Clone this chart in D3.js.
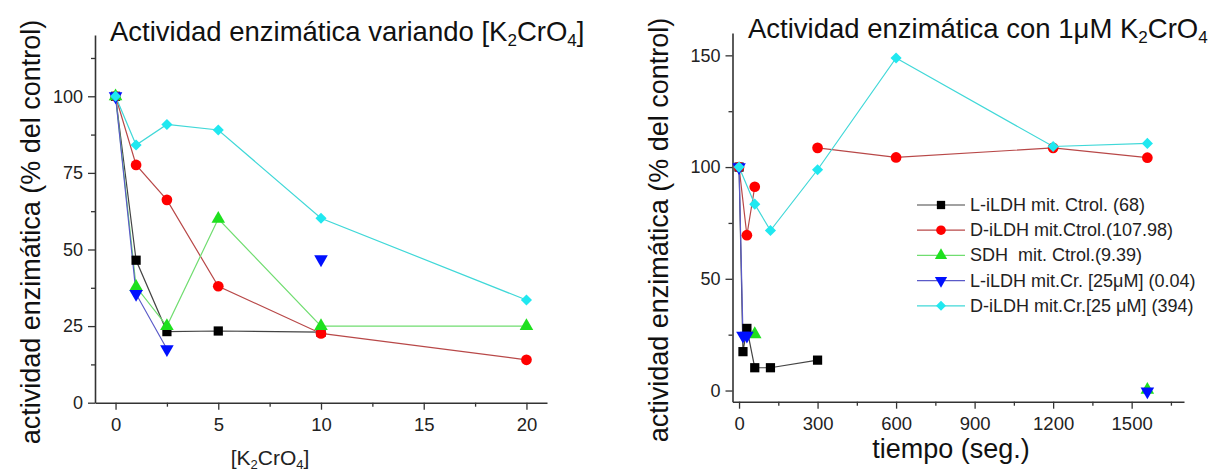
<!DOCTYPE html>
<html>
<head>
<meta charset="utf-8">
<script src="https://cdn.jsdelivr.net/npm/d3@7"></script>
<style>
  body { margin: 0; background: #fff; }
  svg { display: block; font-family: "Liberation Sans", Arial, sans-serif; }
  .axis path, .axis line { stroke: #333; }
  .axis text { fill: #222; font-family: "Liberation Sans", Arial, sans-serif; }
</style>
</head>
<body>
<div id="chart"></div>
<script>
// ---- left panel: activity vs [K2CrO4]
var conc = [0, 1, 2.5, 5, 10, 20];
var leftBlack = [100, 46.5, 23.2, 23.4, 23, null];
var leftRed   = [100, 77.6, 66.2, 38, 22.6, 14];
var leftGreen = [100, 37.8, 25, 60, 25, 25];
var leftBlue  = [100, 35.5, 17.5, null, 46.8, null];
var leftCyan  = [100, 84.1, 90.8, 89, 60.2, 33.5];
var leftXTicks = [0, 5, 10, 15, 20];
var leftXMinor = [2.5, 7.5, 12.5, 17.5];
var leftYTicks = [0, 25, 50, 75, 100];
var leftYMinor = [12.5, 37.5, 62.5, 87.5, 112.5];

// ---- right panel: activity vs time, 1uM K2CrO4
var blackT = [0, 15, 30, 60, 120, 300];
var blackV = [100, 17.4, 27.8, 10.2, 10.2, 13.6];
var redT = [0, 30, 60, 120, 300, 600, 1200, 1560];
var redV = [100, 69.5, 91.2, null, 108.6, 104.3, 108.6, 104.2];
var greenT = [60, 300, 1560];
var greenV = [25.2, null, 0.3];
var blueT = [0, 15, 30, 300, 1560];
var blueV = [100, 24.6, 24.6, null, -0.4];
var cyanT = [0, 60, 120, 300, 600, 1200, 1560];
var cyanV = [100, 83.4, 71.6, 98.8, 148.8, 109.2, 110.6];
var rightXTicks = [0, 300, 600, 900, 1200, 1500];
var rightXMinor = [150, 450, 750, 1050, 1350, 1650];
var rightYTicks = [0, 50, 100, 150];
var rightYMinor = [25, 75, 125];

var seriesNames = [
  "L-iLDH mit. Ctrol. (68)",
  "D-iLDH mit.Ctrol.(107.98)",
  "SDH  mit. Ctrol.(9.39)",
  "L-iLDH mit.Cr. [25\u03bcM] (0.04)",
  "D-iLDH mit.Cr.[25 \u03bcM] (394)"
];
var lineColors = ["#444", "#b84848", "#70dd70", "#5a5ac8", "#40d8d8"];
var markColors = ["#000", "#f00", "#1ee01e", "#0010ff", "#20e8f0"];
var shapes = ["square", "circle", "up", "down", "diamond"];

var W = 1211, H = 474;
var svg = d3.select("#chart").append("svg")
  .attr("width", W).attr("height", H);

function symbolPath(shape) {
  if (shape == "square") return d3.symbol(d3.symbolSquare, 85)();
  if (shape == "circle") return d3.symbol(d3.symbolCircle, 90)();
  if (shape == "up") return d3.symbol(d3.symbolTriangle, 80)();
  if (shape == "down") return d3.symbol(d3.symbolTriangle, 80)();
  return d3.symbol(d3.symbolSquare, 62)();
}
function symbolRotate(shape) {
  if (shape == "down") return 180;
  if (shape == "diamond") return 45;
  return 0;
}

function drawPanel(p) {
  var x = d3.scaleLinear().domain(p.xDomain).range(p.xRange);
  var y = d3.scaleLinear().domain(p.yDomain).range(p.yRange);
  var g = svg.append("g");

  // minor ticks
  g.append("g").attr("class", "axis")
    .attr("transform", "translate(0," + p.yRange[0] + ")")
    .call(d3.axisBottom(x).tickValues(p.xMinor).tickSize(4).tickFormat(""))
    .call(s => s.select(".domain").remove())
    .selectAll("line").attr("stroke-width", 1.3);
  g.append("g").attr("class", "axis")
    .attr("transform", "translate(" + p.xRange[0] + ",0)")
    .call(d3.axisLeft(y).tickValues(p.yMinor).tickSize(4).tickFormat(""))
    .call(s => s.select(".domain").remove())
    .selectAll("line").attr("stroke-width", 1.3);

  var xa = g.append("g").attr("class", "axis")
    .attr("transform", "translate(0," + p.yRange[0] + ")")
    .call(d3.axisBottom(x).tickValues(p.xTicks).tickFormat(d3.format("d"))
      .tickSize(7).tickSizeOuter(0).tickPadding(8));
  xa.selectAll("text").style("font-size", "18.5px");
  xa.select(".domain").attr("stroke-width", 1.6);
  xa.selectAll("line").attr("stroke-width", 1.3);

  var ya = g.append("g").attr("class", "axis")
    .attr("transform", "translate(" + p.xRange[0] + ",0)")
    .call(d3.axisLeft(y).tickValues(p.yTicks).tickSize(7).tickSizeOuter(0).tickPadding(5));
  ya.selectAll("text").style("font-size", "18px");
  ya.select(".domain").attr("stroke-width", 1.6);
  ya.selectAll("line").attr("stroke-width", 1.3);

  p.series.forEach(function (s, i) {
    var pts = s.xs.map(function (xv, j) { return [xv, s.ys[j]]; });
    var line = d3.line()
      .defined(d => d[1] != null)
      .x(d => x(d[0])).y(d => y(d[1]));
    g.append("path").datum(pts)
      .attr("d", line)
      .attr("fill", "none")
      .attr("stroke", lineColors[s.k])
      .attr("stroke-width", 1.2);
  });
  p.series.forEach(function (s) {
    var pts = s.xs.map(function (xv, j) { return [xv, s.ys[j]]; })
      .filter(d => d[1] != null);
    g.selectAll(null).data(pts).enter().append("path")
      .attr("d", symbolPath(shapes[s.k]))
      .attr("transform", d => "translate(" + x(d[0]) + "," + y(d[1]) + ") rotate(" + symbolRotate(shapes[s.k]) + ")")
      .attr("fill", markColors[s.k]);
  });
  return { x: x, y: y };
}

drawPanel({
  xDomain: [-1, 21], xRange: [95, 547],
  yDomain: [0, 120], yRange: [402.7, 35],
  xTicks: leftXTicks, xMinor: leftXMinor, yTicks: leftYTicks, yMinor: leftYMinor,
  series: [
    { k: 0, xs: conc, ys: leftBlack },
    { k: 1, xs: conc, ys: leftRed },
    { k: 2, xs: conc, ys: leftGreen },
    { k: 3, xs: conc, ys: leftBlue },
    { k: 4, xs: conc, ys: leftCyan }
  ]
});

drawPanel({
  xDomain: [-25, 1700], xRange: [732.5, 1184],
  yDomain: [-5, 160], yRange: [401.7, 33],
  xTicks: rightXTicks, xMinor: rightXMinor, yTicks: rightYTicks, yMinor: rightYMinor,
  series: [
    { k: 0, xs: blackT, ys: blackV },
    { k: 1, xs: redT, ys: redV },
    { k: 2, xs: greenT, ys: greenV },
    { k: 3, xs: blueT, ys: blueV },
    { k: 4, xs: cyanT, ys: cyanV }
  ]
});

// titles with sub-scripts
function subText(sel, parts, size) {
  parts.forEach(function (pt) {
    var t = sel.append("tspan").text(pt[0]);
    if (pt[1]) t.attr("baseline-shift", "-32%").style("font-size", (size * 0.62) + "px");
  });
}
var t1 = svg.append("text").attr("x", 110).attr("y", 41)
  .style("font-size", "27.5px").attr("fill", "#111");
subText(t1, [["Actividad enzim\u00e1tica variando [K"], ["2", 1], ["CrO"], ["4", 1], ["]"]], 27.5);

var t2 = svg.append("text").attr("x", 748).attr("y", 38)
  .style("font-size", "27.5px").attr("fill", "#111");
subText(t2, [["Actividad enzim\u00e1tica con 1\u03bcM K"], ["2", 1], ["CrO"], ["4", 1]], 27.5);

// axis titles
["actividad enzim\u00e1tica (% del control)"].forEach(function (s) {
  svg.append("text").attr("transform", "translate(40,232) rotate(-90)")
    .attr("text-anchor", "middle").style("font-size", "27px").attr("fill", "#111").text(s);
  svg.append("text").attr("transform", "translate(668,230) rotate(-90)")
    .attr("text-anchor", "middle").style("font-size", "27px").attr("fill", "#111").text(s);
});

var xl = svg.append("text").attr("x", 270).attr("y", 465)
  .attr("text-anchor", "middle").style("font-size", "21px").attr("fill", "#222");
subText(xl, [["[K"], ["2", 1], ["CrO"], ["4", 1], ["]"]], 21);

svg.append("text").attr("x", 951).attr("y", 458)
  .attr("text-anchor", "middle").style("font-size", "27px").attr("fill", "#111")
  .text("tiempo (seg.)");

// legend
var leg = svg.append("g").attr("transform", "translate(917,205)");
seriesNames.forEach(function (name, i) {
  var row = leg.append("g").attr("transform", "translate(0," + (i * 25.2) + ")");
  row.append("line").attr("x1", 0).attr("x2", 48).attr("y1", 0).attr("y2", 0)
    .attr("stroke", lineColors[i]).attr("stroke-width", 1.2);
  row.append("path").attr("d", symbolPath(shapes[i]))
    .attr("transform", "translate(24,0) rotate(" + symbolRotate(shapes[i]) + ") scale(0.9)")
    .attr("fill", markColors[i]);
  row.append("text").attr("x", 53).attr("y", 6)
    .style("font-size", "18px").style("white-space", "pre").attr("fill", "#222")
    .text(name);
});
</script>
</body>
</html>
